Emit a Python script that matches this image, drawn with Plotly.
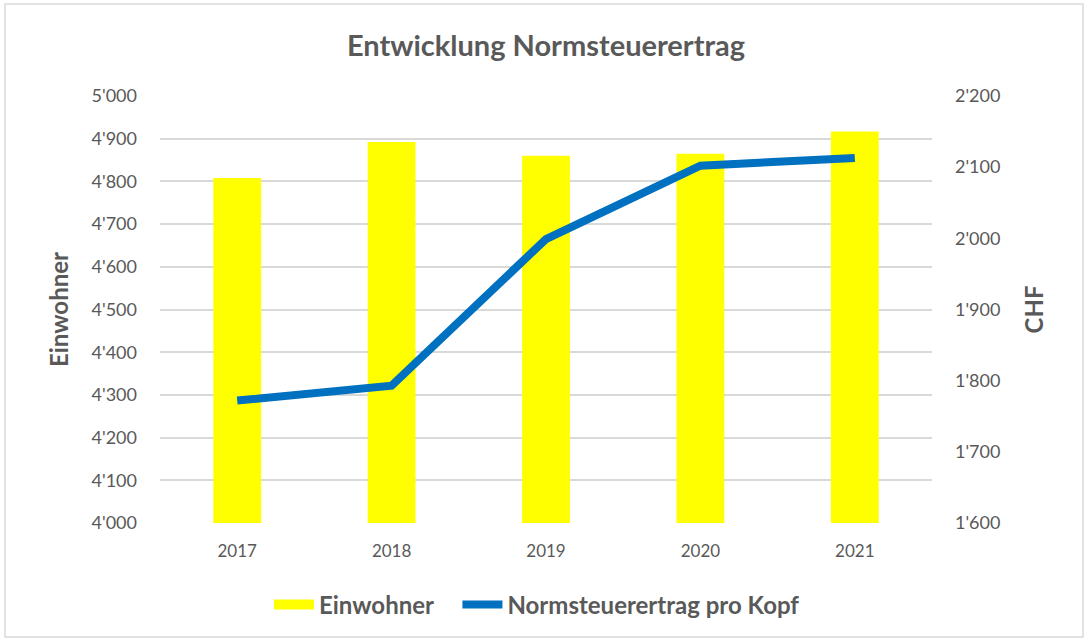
import plotly.graph_objects as go

years = ["2017", "2018", "2019", "2020", "2021"]
einwohner = [4808, 4892, 4860, 4865, 4917]
normsteuer_pro_kopf = [1772, 1793, 1999, 2102, 2113]

left_ticks = list(range(4000, 5001, 100))
right_ticks = list(range(1600, 2201, 100))

GREY = "#595959"
FONT = "Lato"

fig = go.Figure()
fig.add_trace(go.Bar(
    x=years, y=einwohner, name="Einwohner",
    marker=dict(color="#FFFF00", line=dict(width=0)),
    showlegend=False, yaxis="y",
))
# legend proxy for the bar series (wide rectangle like the original)
fig.add_trace(go.Scatter(
    x=[None], y=[None], mode="lines", name="Einwohner",
    line=dict(color="#FFFF00", width=15), yaxis="y",
))
fig.add_trace(go.Scatter(
    x=years, y=normsteuer_pro_kopf, name="Normsteuerertrag pro Kopf",
    mode="lines", line=dict(color="#0070C0", width=8), yaxis="y2",
))

fig.update_layout(
    width=1089, height=641,
    margin=dict(l=160, r=157, t=96, b=118),
    paper_bgcolor="white", plot_bgcolor="white",
    separators=".'",
    bargap=0.69,
    font=dict(family=FONT, color=GREY, size=18),
    title=dict(
        text="<b>Entwicklung Normsteuerertrag</b>",
        x=0.5, xref="paper", xanchor="center",
        y=1 - 46 / 641, yref="container", yanchor="middle",
        font=dict(family=FONT, size=29, color=GREY),
    ),
    xaxis=dict(
        type="category", showgrid=False, showline=False, zeroline=False,
        tickfont=dict(size=17, color=GREY), ticklabelstandoff=16,
    ),
    yaxis=dict(
        range=[4000, 5000], tickvals=left_ticks, tickformat=",d",
        showgrid=True, gridcolor="#D9D9D9", gridwidth=1.5,
        zeroline=False, showline=False,
        tickfont=dict(size=18, color=GREY), ticklabelstandoff=22,
        title=dict(text="<b>Einwohner</b>", font=dict(size=24, color=GREY), standoff=16),
    ),
    yaxis2=dict(
        range=[1600, 2200], tickvals=right_ticks, tickformat=",d",
        overlaying="y", side="right", showgrid=False,
        zeroline=False, showline=False,
        tickfont=dict(size=18, color=GREY), ticklabelstandoff=22,
        title=dict(text="<b>CHF</b>", font=dict(size=24, color=GREY), standoff=26),
    ),
    legend=dict(
        orientation="h", x=0.5, xanchor="center", xref="paper",
        y=(523 - 605) / 427, yanchor="middle", yref="paper",
        font=dict(size=24, color=GREY, family=FONT),
        itemwidth=40, bgcolor="rgba(0,0,0,0)",
        traceorder="normal",
    ),
    shapes=[dict(
        type="rect", xref="paper", yref="paper",
        x0=(5 - 160) / 772, x1=(1083 - 160) / 772,
        y0=(523 - 637) / 427, y1=(523 - 4) / 427,
        line=dict(color="#D9D9D9", width=1.5), fillcolor="rgba(0,0,0,0)",
        layer="below",
    )],
)
fig.for_each_trace(lambda t: t.update(name=f"<b>{t.name}</b>   "))

fig.write_html("out.html")
